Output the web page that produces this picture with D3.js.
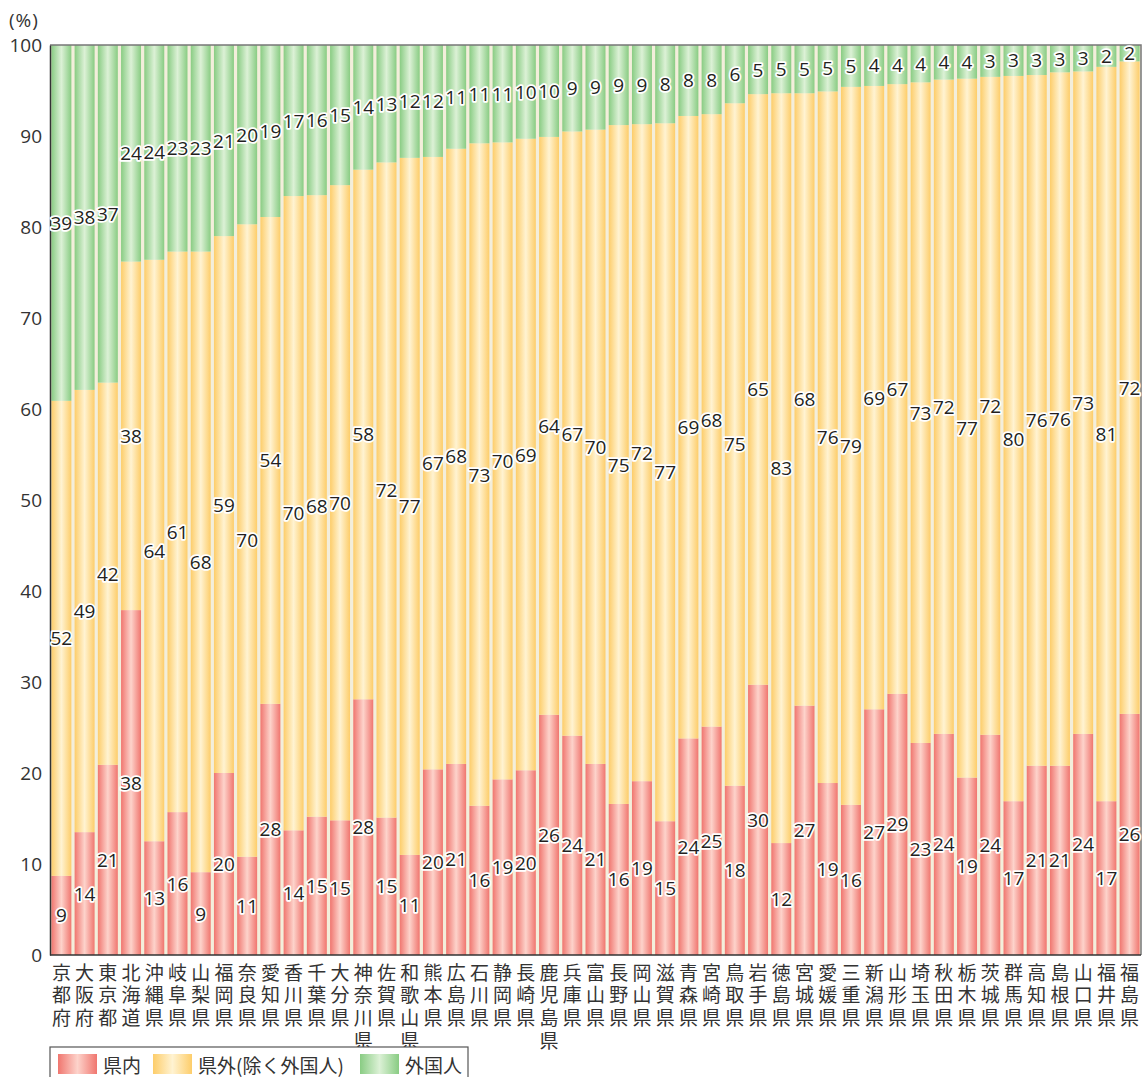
<!DOCTYPE html>
<html>
<head>
<meta charset="utf-8">
<script src="https://cdn.jsdelivr.net/npm/d3@7"></script>
<style>
  body { margin: 0; background: #fff; }
  text { font-family: "Open Sans", "Noto Sans CJK JP", sans-serif; fill: #333; }
  .jp { font-family: "Noto Sans CJK JP", sans-serif; }
</style>
</head>
<body>
<div id="chart"></div>
<script>
const prefectures = ['京都府','大阪府','東京都','北海道','沖縄県','岐阜県','山梨県','福岡県','奈良県','愛知県',
  '香川県','千葉県','大分県','神奈川県','佐賀県','和歌山県','熊本県','広島県','石川県','静岡県',
  '長崎県','鹿児島県','兵庫県','富山県','長野県','岡山県','滋賀県','青森県','宮崎県','鳥取県',
  '岩手県','徳島県','宮城県','愛媛県','三重県','新潟県','山形県','埼玉県','秋田県','栃木県',
  '茨城県','群馬県','高知県','島根県','山口県','福井県','福島県'];

// 県内
const insideValues = [8.7,13.5,20.9,37.9,12.5,15.7,9.1,20.0,10.8,27.6,
  13.7,15.2,14.8,28.1,15.1,11.0,20.4,21.0,16.4,19.3,
  20.3,26.4,24.1,21.0,16.6,19.1,14.7,23.8,25.1,18.6,
  29.7,12.3,27.4,18.9,16.5,27.0,28.7,23.3,24.3,19.5,
  24.2,16.9,20.8,20.8,24.3,16.9,26.5];
// 県外（除く外国人）
const outsideValues = [52.2,48.6,42.0,38.3,63.9,61.6,68.2,59.0,69.5,53.5,
  69.7,68.3,69.8,58.2,72.0,76.6,67.3,67.6,72.8,70.0,
  69.4,63.5,66.4,69.7,74.6,72.2,76.7,68.4,67.3,75.0,
  64.9,82.4,67.3,76.0,78.9,68.5,67.0,72.6,71.9,76.8,
  72.3,79.7,75.9,76.2,72.8,80.7,71.7];
// 外国人
const foreignValues = [39.1,37.9,37.1,23.8,23.6,22.7,22.7,21.0,19.7,18.9,
  16.6,16.5,15.4,13.7,12.9,12.4,12.3,11.4,10.8,10.7,
  10.3,10.1,9.5,9.3,8.8,8.7,8.6,7.8,7.6,6.4,
  5.4,5.3,5.3,5.1,4.6,4.5,4.3,4.1,3.8,3.7,
  3.5,3.4,3.3,3.0,2.9,2.4,1.8];

const insideLabels = [9,14,21,38,13,16,9,20,11,28,14,15,15,28,15,11,20,21,16,19,20,26,24,21,16,19,15,24,25,18,
  30,12,27,19,16,27,29,23,24,19,24,17,21,21,24,17,26];
const outsideLabels = [52,49,42,38,64,61,68,59,70,54,70,68,70,58,72,77,67,68,73,70,69,64,67,70,75,72,77,69,68,75,
  65,83,68,76,79,69,67,73,72,77,72,80,76,76,73,81,72];
const foreignLabels = [39,38,37,24,24,23,23,21,20,19,17,16,15,14,13,12,12,11,11,11,10,10,9,9,9,9,8,8,8,6,
  5,5,5,5,5,4,4,4,4,4,3,3,3,3,3,2,2];

const yTicks = [0,10,20,30,40,50,60,70,80,90,100];
const seriesNames = ['県内','県外(除く外国人)','外国人'];

const gradients = [
  { id: 'g-in', edge: '#f0766f', mid: '#fdd3cb' },
  { id: 'g-out', edge: '#fdcd6a', mid: '#fff3d2' },
  { id: 'g-for', edge: '#89cc83', mid: '#dcf1d6' }
];

const width = 1144, height = 1077;
const margin = { top: 45, right: 3, bottom: 122, left: 50 };

const svg = d3.select('#chart').append('svg')
  .attr('width', width).attr('height', height);

const defs = svg.append('defs');
gradients.forEach(g => {
  const lg = defs.append('linearGradient').attr('id', g.id)
    .attr('x1', 0).attr('x2', 1).attr('y1', 0).attr('y2', 0);
  lg.append('stop').attr('offset', '0%').attr('stop-color', g.edge);
  lg.append('stop').attr('offset', '50%').attr('stop-color', g.mid);
  lg.append('stop').attr('offset', '100%').attr('stop-color', g.edge);
});

const x = d3.scaleBand()
  .domain(prefectures)
  .range([margin.left, width - margin.right])
  .paddingInner(0.14)
  .paddingOuter(0.06);

const y = d3.scaleLinear()
  .domain([0, 100])
  .range([height - margin.bottom, margin.top]);

// plot background
svg.append('rect')
  .attr('x', margin.left).attr('y', margin.top)
  .attr('width', width - margin.right - margin.left)
  .attr('height', y(0) - margin.top)
  .attr('fill', '#f3eedb');

const rows = prefectures.map((p, i) => ({
  name: p,
  inside: insideValues[i], outside: outsideValues[i], foreign: foreignValues[i],
  labels: [insideLabels[i], outsideLabels[i], foreignLabels[i]]
}));

const stack = d3.stack().keys(['inside', 'outside', 'foreign'])(rows);

const layers = svg.append('g').selectAll('g')
  .data(stack).join('g')
  .attr('fill', (d, i) => `url(#${gradients[i].id})`);

layers.selectAll('rect')
  .data(d => d).join('rect')
  .attr('x', d => x(d.data.name))
  .attr('width', x.bandwidth())
  .attr('y', d => y(d[1]))
  .attr('height', d => y(d[0]) - y(d[1]));

// frame
svg.append('path')
  .attr('d', `M${margin.left},${margin.top}H${width - margin.right}V${y(0)}`)
  .attr('fill', 'none').attr('stroke', '#777').attr('stroke-width', 1.5);

const yAxis = svg.append('g')
  .attr('transform', `translate(${margin.left},0)`)
  .call(d3.axisLeft(y).tickValues(yTicks).tickSize(0).tickPadding(8));
yAxis.select('.domain').attr('stroke', '#333').attr('stroke-width', 1.5);
yAxis.selectAll('text').attr('font-size', 19).style('font-family', '"Open Sans", sans-serif').attr('fill', '#333');

svg.append('line')
  .attr('x1', margin.left).attr('x2', width - margin.right)
  .attr('y1', y(0)).attr('y2', y(0))
  .attr('stroke', '#333').attr('stroke-width', 1.5);

svg.append('text')
  .attr('x', 9).attr('y', 27)
  .attr('font-size', 19)
  .attr('letter-spacing', 1)
  .text('(%)');

// segment labels
stack.forEach((layer, k) => {
  svg.append('g').selectAll('text')
    .data(layer).join('text')
    .attr('x', d => x(d.data.name) + x.bandwidth() / 2)
    .attr('y', d => y((d[0] + d[1]) / 2))
    .attr('text-anchor', 'middle')
    .attr('dominant-baseline', 'central')
    .attr('font-size', 19)
    .attr('stroke', '#fff').attr('stroke-width', 3.5)
    .attr('stroke-linejoin', 'round')
    .attr('paint-order', 'stroke')
    .style('fill', '#231f20')
    .text(d => d.data.labels[k]);
});

// category labels, written vertically
svg.append('g').selectAll('text')
  .data(prefectures).join('text')
  .attr('class', 'jp')
  .attr('font-size', 19)
  .attr('writing-mode', 'vertical-rl')
  .attr('letter-spacing', 3.6)
  .attr('x', d => x(d) + x.bandwidth() / 2)
  .attr('y', y(0) + 8)
  .text(d => d);

// legend
const legend = svg.append('g');
legend.append('rect')
  .attr('x', 50).attr('y', 1047).attr('width', 418).attr('height', 40)
  .attr('fill', '#fff').attr('stroke', '#555').attr('stroke-width', 1.2);
const legendX = [58, 153, 360];
seriesNames.forEach((s, i) => {
  legend.append('rect')
    .attr('x', legendX[i]).attr('y', 1054).attr('width', 39).attr('height', 20)
    .attr('fill', `url(#${gradients[i].id})`);
  legend.append('text')
    .attr('class', 'jp')
    .attr('x', legendX[i] + 45).attr('y', 1064)
    .attr('dominant-baseline', 'central')
    .attr('font-size', 19)
    .text(s);
});
</script>
</body>
</html>
